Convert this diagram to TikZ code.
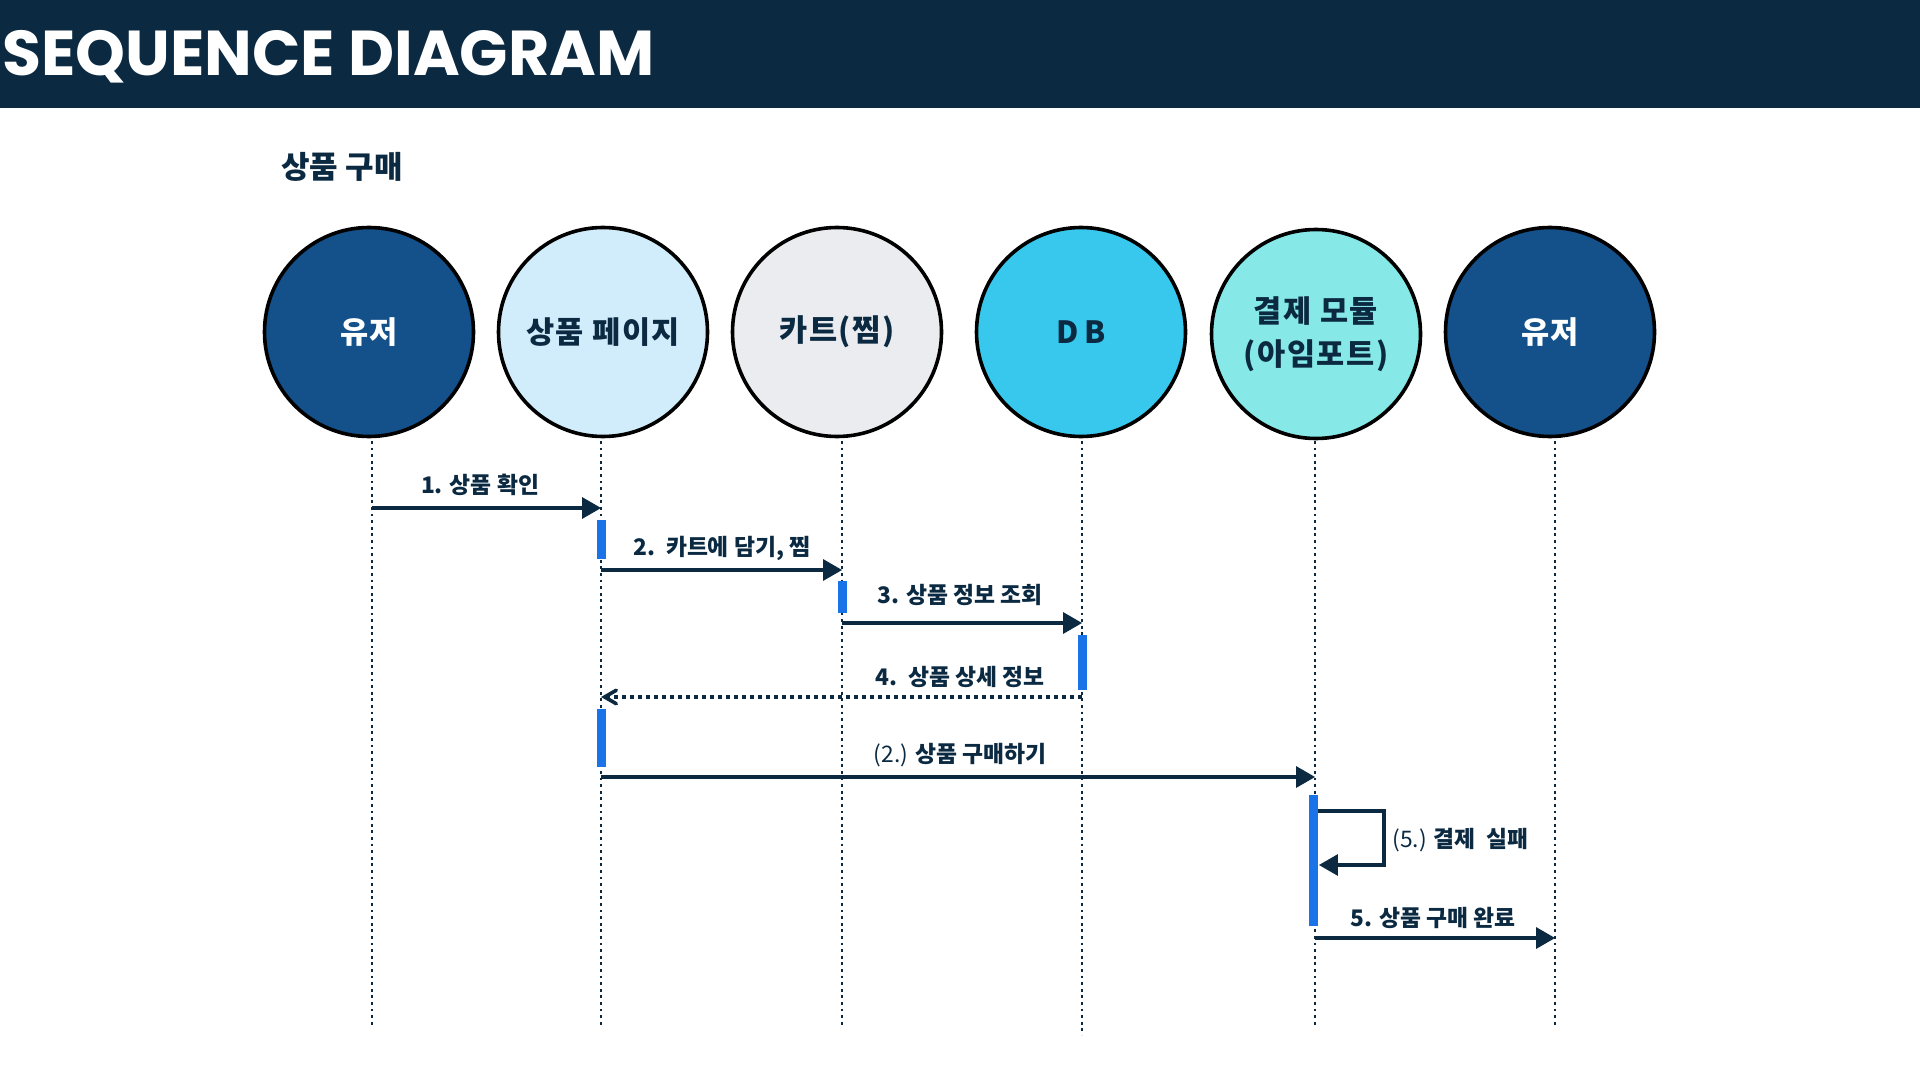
\documentclass[tikz,border=0pt]{standalone}
\usepackage{fontspec}
\setmainfont{Noto Sans CJK KR}
\newfontfamily\titlefont{Poppins}
\usetikzlibrary{arrows}
\definecolor{navy}{RGB}{11,42,66}
\definecolor{userblue}{RGB}{20,80,137}
\definecolor{pagesky}{RGB}{209,236,250}
\definecolor{cartgray}{RGB}{234,236,239}
\definecolor{dbcyan}{RGB}{56,200,238}
\definecolor{paymint}{RGB}{135,232,232}
\definecolor{barblue}{RGB}{27,115,232}

\begin{document}
\begin{tikzpicture}[x=0.5pt,y=-0.5pt]
			\tikzstyle{actor} = [circle, draw=black, line width=1.8pt, minimum size=104.5pt, inner sep=0pt, text=navy, align=center, font=\bfseries\fontsize{15.3}{21.5}\selectfont\addfontfeature{LetterSpace=5}]
			\tikzstyle{life} = [navy, line width=1.4pt, dash pattern=on 1.4pt off 1.9pt]
			\tikzstyle{es} = [navy, line width=1.6pt, -triangle 60]
			\tikzstyle{rs} = [navy, line width=1.8pt, dash pattern=on 1.8pt off 2.2pt, -angle 60]
			\tikzstyle{msg} = [text=navy, inner sep=0pt, font=\bfseries\fontsize{11.4}{13}\selectfont]
			\useasboundingbox (0,0) rectangle (1920,1080);
			\fill [navy] (0,0) rectangle (1920,108);
			\node [anchor=base west, inner sep=0pt, text=white, font=\titlefont\bfseries\fontsize{31.7}{36}\selectfont] (title) at (2,76) {SEQUENCE DIAGRAM};
			\node [anchor=west, inner sep=0pt, text=navy, font=\bfseries\fontsize{15.5}{18}\selectfont] (sub) at (281,167) {상품 구매};
			\node [actor, fill=userblue, text=white] (c1) at (369,332) {유저};
			\node [actor, fill=pagesky] (c2) at (603,332) {상품 페이지};
			\node [actor, fill=cartgray] (c3) at (837,332) {카트(찜)};
			\node [actor, fill=dbcyan] (c4) at (1081,332) {D\,B};
			\node [actor, fill=paymint] (c5) at (1316,334) {결제 모듈\\(아임포트)};
			\node [actor, fill=userblue, text=white] (c6) at (1550,332) {유저};
			\coordinate (t1) at (372,441);
			\coordinate (t2) at (601,441);
			\coordinate (t3) at (842,441);
			\coordinate (t4) at (1082,441);
			\coordinate (t5) at (1315,441);
			\coordinate (t6) at (1555,441);
			\coordinate (b1) at (372,1028);
			\coordinate (b2) at (601,1028);
			\coordinate (b3) at (842,1028);
			\coordinate (b4) at (1082,1035);
			\coordinate (b5) at (1315,1028);
			\coordinate (b6) at (1555,1028);
			\draw [life] (t1) -- (b1);
			\draw [life] (t2) -- (b2);
			\draw [life] (t3) -- (b3);
			\draw [life] (t4) -- (b4);
			\draw [life] (t5) -- (b5);
			\draw [life] (t6) -- (b6);
			\fill [barblue] (596.5,520) rectangle (605.5,559);
			\fill [barblue] (837.5,581) rectangle (846.5,613);
			\fill [barblue] (1077.5,635) rectangle (1086.5,690);
			\fill [barblue] (596.5,709) rectangle (605.5,767);
			\fill [barblue] (1309,795) rectangle (1318,926);
			\coordinate (v1) at (372,508);
			\coordinate (v2) at (601,508);
			\coordinate (v3) at (601,570);
			\coordinate (v4) at (842,570);
			\coordinate (v5) at (842,623);
			\coordinate (v6) at (1082,623);
			\coordinate (v7) at (1082,697);
			\coordinate (v8) at (601,697);
			\coordinate (v9) at (601,777);
			\coordinate (v10) at (1315,777);
			\coordinate (v11) at (1318,811);
			\coordinate (v12) at (1384,865);
			\coordinate (v13) at (1319,865);
			\coordinate (v14) at (1315,938);
			\coordinate (v15) at (1555,938);
			\draw [es] (v1) -- (v2);
			\draw [es] (v3) -- (v4);
			\draw [es] (v5) -- (v6);
			\draw [rs] (v7) -- (v8);
			\draw [es] (v9) -- (v10);
			\draw [es] (v11) -| (v12) -- (v13);
			\draw [es] (v14) -- (v15);
			\node [msg] (m1) at (480,485) {1. 상품 확인};
			\node [msg] (m2) at (722,548) {2.\ \ 카트에 담기, 찜};
			\node [msg] (m3) at (960,595) {3. 상품 정보 조회};
			\node [msg] (m4) at (960,677) {4.\ \ 상품 상세 정보};
			\node [msg] (m5) at (960,755) {{\mdseries (2.)} 상품 구매하기};
			\node [msg, anchor=west] (m6) at (1392,840) {{\mdseries (5.)} 결제\ \ 실패};
			\node [msg] (m7) at (1433,918) {5. 상품 구매 완료};
		\end{tikzpicture}
\end{document}
